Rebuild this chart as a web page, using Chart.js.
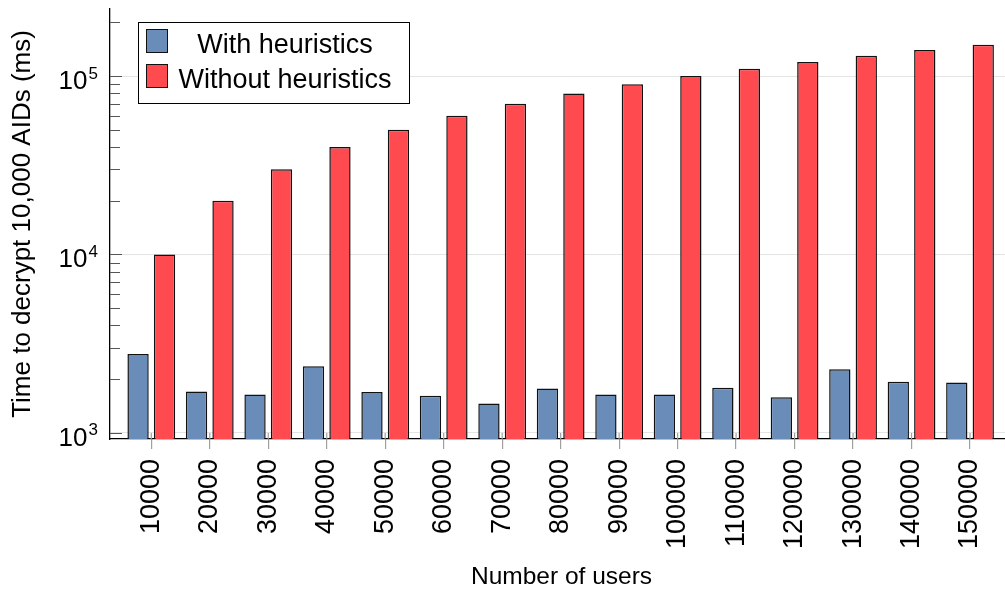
<!DOCTYPE html>
<html>
<head>
<meta charset="utf-8">
<script src="https://cdn.jsdelivr.net/npm/chart.js@4.4.1/dist/chart.umd.min.js"></script>
<style>
  html, body { margin: 0; padding: 0; background: #fff; overflow: hidden; }
  #wrap { width: 1005px; height: 592px; overflow: hidden; }
  canvas { display: block; }
</style>
</head>
<body>
<div id="wrap"><canvas id="chart" width="1014" height="592"></canvas></div>
<script>
// Number of users per experiment (x-axis categories)
const userCounts = ['10000', '20000', '30000', '40000', '50000', '60000', '70000', '80000',
                    '90000', '100000', '110000', '120000', '130000', '140000', '150000'];

// Time (ms) to decrypt 10,000 AIDs
const withHeuristics = [2760, 1700, 1640, 2360, 1690, 1610, 1460, 1770,
                        1640, 1640, 1790, 1580, 2270, 1930, 1910];
const withoutHeuristics = [10000, 20000, 30000, 40000, 50000, 60000, 70000, 80000,
                           90000, 100000, 110000, 120000, 130000, 140000, 150000];

// Decades labelled on the logarithmic y-axis (10^3, 10^4, 10^5)
const yTickExponents = [3, 4, 5];

const seriesNames = ['With heuristics', 'Without heuristics'];

const FONT = "'Liberation Sans', Arial, Helvetica, sans-serif";
Chart.defaults.font.family = FONT;
Chart.defaults.color = '#000';

const isDecade = v => Math.abs(Math.log10(v) - Math.round(Math.log10(v))) < 1e-9;

// Inside ticks and 10^n labels for the log axis, plus short inner x ticks
const logAxisDecor = {
  id: 'logAxisDecor',
  afterDraw(chart) {
    const y = chart.scales.y;
    const x = chart.scales.x;
    const ctx = chart.ctx;
    const { left, bottom } = chart.chartArea;
    ctx.save();
    ctx.strokeStyle = '#555';
    ctx.lineWidth = 1;
    for (let e = 2; e <= 6; e++) {
      for (let m = 1; m <= 9; m++) {
        const v = m * Math.pow(10, e);
        if (v < y.min || v > y.max) continue;
        const py = Math.round(y.getPixelForValue(v)) + 0.5;
        ctx.beginPath();
        ctx.moveTo(left, py);
        ctx.lineTo(left + (m === 1 ? 12 : 10), py);
        ctx.stroke();
      }
    }
    ctx.strokeStyle = '#a0a0a0';
    ctx.lineWidth = 1.2;
    x.ticks.forEach(t => {
      const px = x.getPixelForValue(t.value);
      ctx.beginPath();
      ctx.moveTo(px, bottom - 6);
      ctx.lineTo(px, bottom);
      ctx.stroke();
    });
    ctx.fillStyle = '#000';
    ctx.textAlign = 'left';
    ctx.textBaseline = 'alphabetic';
    yTickExponents.forEach(e => {
      const py = y.getPixelForValue(Math.pow(10, e));
      const x0 = 58.5;
      ctx.font = `26px ${FONT}`;
      ctx.fillText('10', x0, py + 13);
      const w = ctx.measureText('10').width;
      ctx.font = `17px ${FONT}`;
      ctx.fillText(String(e), x0 + w + 1, py + 2.5);
    });
    ctx.restore();
  }
};

// Boxed legend with centred entry labels
const boxedLegend = {
  id: 'boxedLegend',
  afterDraw(chart) {
    const ctx = chart.ctx;
    const box = { x: 138.5, y: 22.5, w: 271, h: 81 };
    ctx.save();
    ctx.fillStyle = '#fff';
    ctx.fillRect(box.x, box.y, box.w, box.h);
    ctx.strokeStyle = '#000';
    ctx.lineWidth = 1;
    ctx.strokeRect(box.x, box.y, box.w, box.h);
    const rows = [29.5, 64.5];
    chart.data.datasets.forEach((ds, i) => {
      const top = rows[i];
      ctx.fillStyle = ds.backgroundColor;
      ctx.fillRect(146.5, top, 21, 23);
      ctx.strokeStyle = '#111';
      ctx.strokeRect(146.5, top, 21, 23);
      ctx.fillStyle = '#000';
      ctx.font = `27px ${FONT}`;
      ctx.textAlign = 'center';
      ctx.textBaseline = 'alphabetic';
      ctx.fillText(ds.label, 285, top + 23);
    });
    ctx.restore();
  }
};

const toPoints = arr => arr.map((v, i) => ({ x: i + 1, y: v }));

new Chart(document.getElementById('chart'), {
  type: 'bar',
  data: {
    datasets: [
      {
        label: seriesNames[0],
        data: toPoints(withHeuristics),
        backgroundColor: '#698cb8',
        borderColor: '#111',
        borderWidth: 1.5,
        categoryPercentage: 0.905,
        barPercentage: 0.805
      },
      {
        label: seriesNames[1],
        data: toPoints(withoutHeuristics),
        backgroundColor: '#ff4a50',
        borderColor: '#111',
        borderWidth: 1.5,
        categoryPercentage: 0.905,
        barPercentage: 0.805
      }
    ]
  },
  options: {
    responsive: false,
    animation: false,
    devicePixelRatio: 1,
    layout: { padding: { top: 9, right: 1, left: 0, bottom: 0 } },
    plugins: {
      legend: { display: false },
      tooltip: { enabled: false }
    },
    scales: {
      x: {
        type: 'linear',
        offset: false,
        min: 0.2938,
        max: 15.735,
        afterBuildTicks: s => { s.ticks = userCounts.map((_, i) => ({ value: i + 1 })); },
        afterFit: s => { s.height = 153; },
        grid: {
          offset: false,
          drawOnChartArea: false,
          drawTicks: true,
          tickLength: 10,
          color: '#a0a0a0',
          lineWidth: 1.2
        },
        border: { color: '#000', width: 1.3 },
        ticks: {
          autoSkip: false,
          minRotation: 90,
          maxRotation: 90,
          padding: 10,
          color: '#000',
          font: { size: 27 },
          callback: v => userCounts[v - 1] ?? ''
        },
        title: {
          display: true,
          text: 'Number of users',
          color: '#000',
          font: { size: 24.5 },
          padding: { top: 0, bottom: 0 }
        }
      },
      y: {
        type: 'logarithmic',
        min: 922,
        max: 237900,
        afterFit: s => { s.width = 110; },
        grid: {
          drawTicks: false,
          lineWidth: 1,
          color: c => (c.tick && isDecade(c.tick.value)) ? '#e4e4e4' : 'rgba(0,0,0,0)'
        },
        border: { color: '#000', width: 1.3 },
        ticks: { display: false },
        title: {
          display: true,
          text: 'Time to decrypt 10,000 AIDs (ms)',
          color: '#000',
          font: { size: 26 },
          padding: { top: 7, bottom: 0 }
        }
      }
    }
  },
  plugins: [logAxisDecor, boxedLegend]
});
</script>
</body>
</html>
